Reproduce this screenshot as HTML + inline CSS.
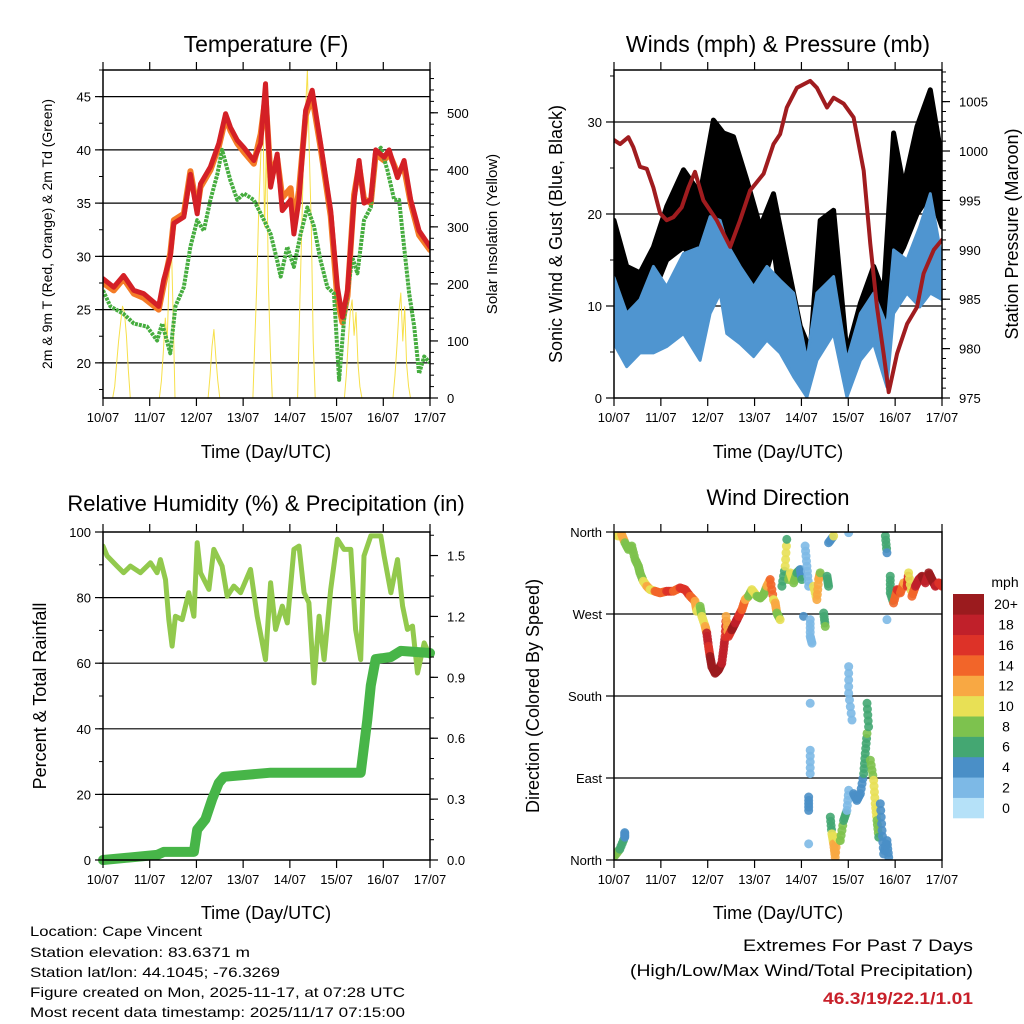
<!DOCTYPE html>
<html><head><meta charset="utf-8">
<style>
html,body{margin:0;padding:0;background:#fff;}
svg{display:block;font-family:"Liberation Sans",Arial,sans-serif;}
</style></head>
<body>
<svg id="fig" width="1024" height="1024" viewBox="0 0 1024 1024" xmlns="http://www.w3.org/2000/svg">
<rect width="1024" height="1024" fill="#fff"/>
<g id="layer"></g>
<text x="266" y="52" font-size="23" text-anchor="middle">Temperature (F)</text>
<text x="778" y="52" font-size="23" text-anchor="middle">Winds (mph) &amp; Pressure (mb)</text>
<text x="266" y="511" font-size="22" text-anchor="middle">Relative Humidity (%) &amp; Precipitation (in)</text>
<text x="778" y="505" font-size="22" text-anchor="middle">Wind Direction</text>
<text x="266" y="458" font-size="18" text-anchor="middle">Time (Day/UTC)</text>
<text x="778" y="458" font-size="18" text-anchor="middle">Time (Day/UTC)</text>
<text x="266" y="919" font-size="18" text-anchor="middle">Time (Day/UTC)</text>
<text x="778" y="919" font-size="18" text-anchor="middle">Time (Day/UTC)</text>
<text transform="translate(52,234) rotate(-90)" font-size="14" text-anchor="middle">2m &amp; 9m T (Red, Orange) &amp; 2m Td (Green)</text>
<text transform="translate(497,234) rotate(-90)" font-size="15" text-anchor="middle">Solar Insolation (Yellow)</text>
<text transform="translate(562,234) rotate(-90)" font-size="18" text-anchor="middle">Sonic Wind &amp; Gust (Blue, Black)</text>
<text transform="translate(1018,234) rotate(-90)" font-size="18" text-anchor="middle">Station Pressure (Maroon)</text>
<text transform="translate(46,696) rotate(-90)" font-size="18" text-anchor="middle">Percent &amp; Total Rainfall</text>
<text transform="translate(539,696) rotate(-90)" font-size="18" text-anchor="middle">Direction (Colored By Speed)</text>
<text x="1005" y="587" font-size="14" text-anchor="middle">mph</text>
<g font-size="14">
<text x="30" y="936" textLength="172" lengthAdjust="spacingAndGlyphs">Location: Cape Vincent</text>
<text x="30" y="957" textLength="220" lengthAdjust="spacingAndGlyphs">Station elevation: 83.6371 m</text>
<text x="30" y="977" textLength="250" lengthAdjust="spacingAndGlyphs">Station lat/lon: 44.1045; -76.3269</text>
<text x="30" y="997" textLength="375" lengthAdjust="spacingAndGlyphs">Figure created on Mon, 2025-11-17, at 07:28 UTC</text>
<text x="30" y="1017" textLength="375" lengthAdjust="spacingAndGlyphs">Most recent data timestamp: 2025/11/17 07:15:00</text>
</g>
<text x="973" y="951" font-size="17" text-anchor="end" textLength="230" lengthAdjust="spacingAndGlyphs">Extremes For Past 7 Days</text>
<text x="973" y="976" font-size="17" text-anchor="end" textLength="343" lengthAdjust="spacingAndGlyphs">(High/Low/Max Wind/Total Precipitation)</text>
<text x="973" y="1004" font-size="17" font-weight="bold" fill="#c8202a" text-anchor="end" textLength="150" lengthAdjust="spacingAndGlyphs">46.3/19/22.1/1.01</text>
</svg>
<script>
// ---------- data ----------
const dayLabels = ["10/07","11/07","12/07","13/07","14/07","15/07","16/07","17/07"];
const tempTicks = [20,25,30,35,40,45];
const solarTicks = [0,100,200,300,400,500];
const windTicks = [0,10,20,30];
const presTicks = [975,980,985,990,995,1000,1005];
const rhTicks = [0,20,40,60,80,100];
const precipTicks = ["0.0","0.3","0.6","0.9","1.2","1.5"];
const dirTicks = ["North","East","South","West","North"];
const speedLabels = ["0","2","4","6","8","10","12","14","16","18","20+"];
const speedColors = ["#b5e1f8","#7db9e6","#4a8fc7","#44a772","#7dc24e","#e8e055","#f8a843","#f26529","#dd3228","#c0202a","#9b1b1e"];

const tempHours = [0,5.5,10.6,15.8,20.9,28.6,31.2,34.6,36.4,41.5,44.9,48.4,50.1,55.2,59.5,63,65.5,69,72.4,77.5,81,83.5,86.1,89.5,92.1,96.4,98.1,100.7,104.1,107.5,111.8,117,120.4,123,125.6,129,131.6,134.1,137.6,140.1,144.4,147,151.3,154.7,158.1,162.4,168];
const temp2m = [27.9,27.1,28.2,26.8,26.5,25.3,27.8,30,33.1,33.7,37.7,34,36.8,38.4,40.6,43.4,42.1,40.9,40.2,39,40.6,46.2,36.5,39.6,34.3,35.3,32.1,35.3,43.7,45.6,40.6,34.3,27.1,24.3,26.8,35.3,39,35,35.3,40,39.3,40,37.4,39,35.3,32.4,30.9];
const temp9m = [27.5,26.8,27.9,26.5,26.1,25.0,27.3,30.3,33.4,34.0,38.0,34.4,36.5,38.1,40.3,43.0,41.8,40.6,39.8,38.7,41.5,45.0,37.5,39.2,35.5,36.4,33.0,36.2,43.2,45.0,40.2,33.8,26.0,23.8,26.3,35.8,38.5,35.4,35.0,39.6,39.0,39.7,37.8,38.3,35.0,32.0,30.6];
const dewHours = [0,3.8,10.6,15.8,22.6,27.8,30.4,34.6,37.2,41.5,44.9,48.4,51.8,55.2,58.7,61.2,65.5,69,72.4,77.5,82.7,86.1,89.5,91.3,94.7,98.1,101.5,105,108.4,111.8,115.3,118.7,121.3,123.8,128.1,130.7,134.1,137.6,140.1,142.7,146.1,149.6,152.1,154.7,157.3,159.9,162.4,165,168];
const dewPoint = [26.8,25.3,24.6,23.7,23.4,22.1,23.7,20.9,25.3,27.1,30.9,33.4,32.4,35.3,37.7,40,37.1,35.3,35.9,35.3,33.4,32.1,29.6,28.1,30.9,29,32.1,34.6,32.8,29.6,27.1,26.5,18.4,24,29.9,28.4,33.4,34.6,39.6,40.2,38.1,35.3,35.3,30.9,26.5,23.4,19,20.6,20];
const solarHours = [0,5,6,7,8,9,10,11,12,13,14,29,30,31,32,33,34,35,36,37,54,55,56,57,58,59,60,77,78,79,80,81,82,83,84,85,86,87,100,101,102,103,104,105,106,107,108,109,124,125,126,127,128,129,130,131,132,133,149,150,151,152,153,154,155,156,157,158,168];
const solarVals = [0,0,20,60,100,130,161,150,110,50,0,0,30,80,140,100,220,290,150,0,0,40,90,120,70,30,0,0,100,200,330,420,530,300,450,200,80,0,0,150,280,420,500,575,430,300,100,0,0,40,100,150,172,110,150,60,20,0,0,40,90,150,184,100,160,60,20,0,0];

const presHours = [0,3.1,7.4,9.9,13.3,16.8,20.2,23.6,27,30.4,34.7,38.1,41.5,45.8,52.6,59.5,64.6,69.7,76.6,81.7,85.1,88.5,93.7,100.5,103.9,109.1,112.5,117.6,122.7,127.9,131.3,134.7,138.1,140.7,145,150.1,155.2,158.6,163.8,168];
const pressure = [1001.1,1000.7,1001.4,1000.4,998.4,998.2,996.3,993.7,993,993.3,994.3,996.3,997.9,995,993,990.3,993,996,997.7,1000.7,1001.7,1004.4,1006.4,1007.1,1006.4,1004.4,1005.4,1004.8,1003.4,998,990.6,984.2,979.5,975.6,979.5,982.5,984.2,987.6,990,991];
const windHours = [0,6.5,13.3,20.2,27,35.6,44.1,49.2,54.4,57.8,64.6,71.5,78.3,85.1,92,98.8,103.9,112.5,119.3,126.2,133,139.8,143.2,150,156.6,162,168];
const windLow = [5.9,3.4,4.9,4.9,5.6,7,4.1,9.2,11.4,7,5.9,4.5,6.3,4.9,2.3,0.1,4.1,7,0.1,4.1,5.9,1.2,9.2,11.4,9.9,11.4,10.7];
const windHigh = [13.1,9.2,10.7,14.3,12.1,15.7,16.4,19.7,19.3,16.8,14.3,12.1,14.3,12.8,11.4,4.1,11.4,13.2,4.1,9.2,11.4,7.8,16.1,15,18.6,22.2,15];
const gustHours = [0,6.5,13.3,20.2,27,35.6,44.1,50.9,56.1,61.2,68,74.9,81.7,88.5,95.4,100.5,105.6,112.5,119.3,126.2,133,138.1,143.2,148.4,155.2,162,168];
const gustLow = [9.2,9.2,7.8,11.4,15,16.4,14.3,19.3,17.9,16.4,10.7,11.4,16.4,5.9,3.4,2.7,10.7,12.1,2,6.3,9.2,4.9,14.3,16.4,20,22.2,18.6];
const gustHigh = [19.3,14.3,13.6,16.4,20.8,24.8,22.2,30.2,28.8,28.4,23.7,18.6,22.2,15,7.8,5.2,19.3,20.4,4.9,10.3,14.3,11.4,28.8,23,29.5,33.5,25.9];

const rhHours = [0,2.1,7.2,10.6,14.1,19.2,24.4,27.8,29.5,32.1,33.8,35.5,37.2,40.7,44.1,46.7,48.4,50.1,54.4,56.9,61.2,63.8,67.2,70.7,75.8,79.2,83.5,86.1,88.7,92.1,94.7,98.1,100.7,103.3,105.8,108.4,111,113.6,117,120.4,123.8,127.3,129.8,132.4,134.1,137.6,142.7,144.4,147.9,151.3,153.9,156.4,159,161.6,165,168];
const rhVals = [95.7,92.7,89.6,87.6,89.6,87.6,90.6,87.6,91.6,85.5,73.3,65.2,74.3,73.3,81.5,74.3,96.7,87.6,82.5,94.7,89.6,80.4,83.5,81.5,88.6,74.3,61.1,84.5,70.3,77.4,72.3,94.7,95.7,81.5,78.4,54,74.3,61.1,82.5,97.8,94.7,94.7,70.3,61.1,92.7,98.8,98.8,92.7,81.5,91.6,77.4,70.3,71.3,57,66.2,62.1];
const precipHours = [0,27.8,31.2,46.7,48.4,52.6,56.1,59.5,62.1,86.1,132.4,135.8,137.6,140.1,147.9,153,168];
const precipVals = [0,0.025,0.04,0.04,0.15,0.2,0.3,0.38,0.41,0.43,0.43,0.69,0.86,0.99,1.0,1.03,1.02];

const dirHours = [0.5,2.2,3.9,5.6,7.4,9.1,10.8,12.5,13.3,15,16.8,18.5,21,23.6,27,30.4,33.8,36.4,39,41.5,42.4,44.1,45,46.7,47.5,48.4,49.2,50.1,51.8,53.5,55.2,56.1,56.9,57.4,58.6,60.3,62.1,63.8,65.5,67.2,68.9,70.6,73.2,74.9,76.6,78.3,80,81.7,82.6,83.4,85.1,86,87.7,88.5,89.4,90.3,92,93.7,95.4,96.2,97.1,97.9,98.8,99.7,100.5,100.5,101.4,100.5,100.5,100.5,99.7,99.7,99.7,102.2,103.9,104.8,105.6,107.4,108.2,109.1,109.9,109.9,112.5,110.8,111.6,112.5,113.3,114.2,115.9,117.6,119.3,120.2,120.2,120.2,120.2,121.9,122.7,124.4,126.2,127.9,128.7,129.6,129.6,130.4,131.3,133,133.8,134.7,135.6,136.4,137.3,138.1,139.8,140.7,139,139.8,139.8,141.5,141.5,143.2,145,146.7,148.4,150.1,150.9,152.6,154.4,156.1,157.8,159.5,161.2,162.9,164.6,166.3,168,0.5,3,5.5,5.5];
const dirDeg = [357.4,355.6,357.4,348.2,340.9,344.6,329.9,322.5,315.2,306,300.5,296.8,295,293.2,295,295,298.7,296.8,289.5,284,273,278.5,267.4,256.4,249.1,234.4,223.4,212.3,205,208.7,216,230.7,245.4,267.4,245.4,252.7,260.1,267.4,274.8,285.8,289.5,296.8,289.5,287.6,291.3,300.5,307.8,285.8,282.1,271.1,263.8,300.5,322.5,351.9,307.8,315.2,304.2,315.2,318.9,307.8,267.4,344.6,322.5,300.5,263.8,245.4,238,172,120.5,94.8,69.1,54.4,17.7,300.5,285.8,307.8,315.2,271.1,256.4,311.5,300.5,348.2,355.6,47.1,28.7,17.7,3,25,21.3,43.4,54.4,76.5,359.3,212.3,183,153.6,72.8,65.4,72.8,94.8,116.8,138.9,172,146.2,109.5,87.5,61.8,43.4,25,61.8,32.4,6.7,21.3,3,355.6,337.2,263.8,311.5,293.2,282.1,296.8,293.2,304.2,300.5,315.2,289.5,300.5,307.8,311.5,304.2,315.2,307.8,300.5,304.2,300.5,5,12,25,30];
const dirSpeed = [10,9,12,8,7,8,8,7,8,10,12,10,13,14,15,13,16,16,14,12,9,8,10,12,18,16,19,19,20,19,18,17,16,12,16,19,17,16,14,11,8,10,8,8,7,12,13,10,12,8,10,5,9,5,8,10,7,6,4,5,3,2,2,1,1,1,1,1,1,2,3,3,2,10,12,11,8,6,7,6,6,4,10,6,10,12,12,10,8,6,2,2,1,1,1,1,3,4,4,5,6,7,6,6,7,10,9,8,6,4,3,4,3,4,5,3,1,5,6,14,15,14,12,16,10,14,17,18,19,18,20,20,18,16,15,8,6,4,3];

// ---------- panels & scales ----------
const NS = "http://www.w3.org/2000/svg";
const layer = document.getElementById('layer');
function mk(tag, attrs, parent){ const e=document.createElementNS(NS,tag); for(const k in attrs) e.setAttribute(k,attrs[k]); (parent||layer).appendChild(e); return e; }
const P1={L:103,R:430,T:70,B:398}, P2={L:614,R:942,T:70,B:398}, P3={L:103,R:430,T:532,B:860}, P4={L:614,R:942,T:532,B:860};
const xs = P => h => P.L + h/168*(P.R-P.L);
const lin = (d0,d1,P) => v => P.B - (v-d0)/(d1-d0)*(P.B-P.T);
const x1=xs(P1), x2=xs(P2), x3=xs(P3), x4=xs(P4);
const yTemp=lin(16.7,47.5,P1), ySolar=lin(0,575,P1);
const yWind=lin(0,35.65,P2), yPres=lin(975,1008.2,P2);
const yRh=lin(0,100,P3), yPrec=lin(0,1.616,P3);
const yDir=lin(0,360,P4);

function pathOf(hs, vs, xf, yf){ return hs.map((h,i)=>(i?'L':'M')+xf(h).toFixed(1)+','+yf(vs[i]).toFixed(1)).join(''); }
function bandOf(hs, lo, hi, xf, yf){
  let d = hs.map((h,i)=>(i?'L':'M')+xf(h).toFixed(1)+','+yf(hi[i]).toFixed(1)).join('');
  for(let i=hs.length-1;i>=0;i--) d += 'L'+xf(hs[i]).toFixed(1)+','+yf(lo[i]).toFixed(1);
  return d+'Z';
}

function clip(id,P){ const c=mk('clipPath',{id:id}); mk('rect',{x:P.L,y:P.T,width:P.R-P.L,height:P.B-P.T},c); }
clip('c1',P1);clip('c2',P2);clip('c3',P3);clip('c4',P4);

function frame(P, name, xf){
  dayLabels.forEach((lab,i)=>{
    const x = xf(i*24);
    const tb = mk('line',{x1:x,x2:x,y1:P.B,y2:P.B+8,stroke:'#000','stroke-width':1.2});
    
    
    const tt = mk('line',{x1:x,x2:x,y1:P.T,y2:P.T-8,stroke:'#000','stroke-width':1.2});
    
    
    const t = mk('text',{x:x,y:P.B+24,'font-size':13,'text-anchor':'middle'});
    t.textContent = lab;
    
    
  });
}
function grid(P, name, ys){
  ys.forEach(y=>{
    const g = mk('line',{x1:P.L,x2:P.R,y1:y,y2:y,stroke:'#000','stroke-width':1.2});
    
    
  });
}
function leftAxis(P,name,vals,labels,yf,minorStep,minorMin,minorMax){
  for(let v=minorMin; v<=minorMax+1e-9; v+=minorStep){
    const y=yf(v); if(y<P.T-0.5||y>P.B+0.5) continue;
    const m = mk('line',{x1:P.L-4,x2:P.L,y1:y,y2:y,stroke:'#000','stroke-width':1});
    
    
  }
  vals.forEach((v,i)=>{
    const y=yf(v);
    const t=mk('line',{x1:P.L-8,x2:P.L,y1:y,y2:y,stroke:'#000','stroke-width':1.2});
    
    
    const l=mk('text',{x:P.L-12,y:y+5,'font-size':13,'text-anchor':'end'});
    l.textContent = labels[i];
    
    
  });
}
function rightAxis(P,name,vals,labels,yf,minorStep,minorMin,minorMax){
  for(let v=minorMin; v<=minorMax+1e-9; v+=minorStep){
    const y=yf(v); if(y<P.T-0.5||y>P.B+0.5) continue;
    const m = mk('line',{x1:P.R,x2:P.R+4,y1:y,y2:y,stroke:'#000','stroke-width':1});
    
    
  }
  vals.forEach((v,i)=>{
    const y=yf(v);
    const t=mk('line',{x1:P.R,x2:P.R+8,y1:y,y2:y,stroke:'#000','stroke-width':1.2});
    
    
    const l=mk('text',{x:P.R+17,y:y+5,'font-size':13,'text-anchor':'start'});
    l.textContent = labels[i];
    
    
  });
}
function border(P,name){
  const r=mk('rect',{x:P.L,y:P.T,width:P.R-P.L,height:P.B-P.T,fill:'none',stroke:'#000','stroke-width':1.5});
  
  
}

// ---------- panel 1: temperature ----------
grid(P1,'temp',tempTicks.map(yTemp));
const g1 = mk('g',{'clip-path':'url(#c1)'});


const solar = mk('path',{d:pathOf(solarHours,solarVals,x1,ySolar),fill:'none',stroke:'#f7e04a','stroke-width':1,'stroke-linejoin':'round'},g1);


const t9 = mk('path',{d:pathOf(tempHours,temp9m,x1,yTemp),fill:'none',stroke:'#f47b26','stroke-width':6,'stroke-linejoin':'round','stroke-linecap':'round'},g1);


const dew = mk('path',{d:pathOf(dewHours,dewPoint,x1,yTemp),fill:'none',stroke:'#46ad3f','stroke-width':4,'stroke-dasharray':'3 1','stroke-linejoin':'round'},g1);


const t2 = mk('path',{d:pathOf(tempHours,temp2m,x1,yTemp),fill:'none',stroke:'#d42026','stroke-width':5,'stroke-linejoin':'round','stroke-linecap':'round'},g1);


border(P1,'temp');
frame(P1,'temp',x1);
leftAxis(P1,'temp',tempTicks,tempTicks.map(String),yTemp,2.5,17.5,47.5);
rightAxis(P1,'solar',solarTicks,solarTicks.map(String),ySolar,20,0,560);

// ---------- panel 2: winds ----------
grid(P2,'wind',[10,20,30].map(yWind));
const g2 = mk('g',{'clip-path':'url(#c2)'});


const gust = mk('path',{d:bandOf(gustHours,gustLow,gustHigh,x2,yWind),fill:'#000',stroke:'#000','stroke-width':5,'stroke-linejoin':'round'},g2);


const wind = mk('path',{d:bandOf(windHours,windLow,windHigh,x2,yWind),fill:'#4f95d0',stroke:'#4f95d0','stroke-width':3,'stroke-linejoin':'round'},g2);


const pres = mk('path',{d:pathOf(presHours,pressure,x2,yPres),fill:'none',stroke:'#a01c1f','stroke-width':4,'stroke-linejoin':'round','stroke-linecap':'round'},g2);


border(P2,'wind');
frame(P2,'wind',x2);
leftAxis(P2,'wind',windTicks,windTicks.map(String),yWind,5,0,35);
rightAxis(P2,'pressure',presTicks,presTicks.map(String),yPres,1,975,1008);

// ---------- panel 3: RH & precip ----------
grid(P3,'rh',[20,40,60,80].map(yRh));
const g3 = mk('g',{'clip-path':'url(#c3)'});


const rh = mk('path',{d:pathOf(rhHours,rhVals,x3,yRh),fill:'none',stroke:'#92c94d','stroke-width':5,'stroke-linejoin':'round','stroke-linecap':'round'},g3);


const pr = mk('path',{d:pathOf(precipHours,precipVals,x3,yPrec),fill:'none',stroke:'#47b548','stroke-width':10,'stroke-linejoin':'round','stroke-linecap':'round'});


border(P3,'rh');
frame(P3,'rh',x3);
leftAxis(P3,'rh',rhTicks,rhTicks.map(String),yRh,10,0,100);
rightAxis(P3,'precip',precipTicks.map(Number),precipTicks,yPrec,0.1,0,1.6);

// ---------- panel 4: wind direction ----------
grid(P4,'dir',[90,180,270].map(yDir));
const g4 = mk('g',{'clip-path':'url(#c4)'});


function sc(s){ return speedColors[Math.max(0,Math.min(10,Math.round(s/2)))]; }
for(let i=0;i<dirHours.length;i++){
  const j=i+1;
  if(j<dirHours.length && Math.abs(dirHours[j]-dirHours[i])<4 && Math.abs(dirDeg[j]-dirDeg[i])<30 && dirHours[j]>=dirHours[i]){
    for(let k=1;k<4;k++){
      const f=k/4;
      const h=dirHours[i]+(dirHours[j]-dirHours[i])*f, d=dirDeg[i]+(dirDeg[j]-dirDeg[i])*f;
      const c=mk('circle',{cx:x4(h),cy:yDir(d),r:4.5,fill:sc(dirSpeed[i]),'fill-opacity':0.9},g4);
      
      
    }
  }
  const c=mk('circle',{cx:x4(dirHours[i]),cy:yDir(dirDeg[i]),r:4.5,fill:sc(dirSpeed[i]),'fill-opacity':0.9},g4);
  
  
}
border(P4,'dir');
frame(P4,'dir',x4);
leftAxis(P4,'dir',[0,90,180,270,360],dirTicks,yDir,90,0,360);

// colorbar
const cbTop=594, cbH=224/11;
speedColors.forEach((col,i)=>{
  const y = cbTop + (10-i)*cbH;
  const r=mk('rect',{x:953,y:y,width:31,height:cbH+0.3,fill:col});
  
  
  const t=mk('text',{x:1006,y:y+cbH/2+5,'font-size':14,'text-anchor':'middle'});
  t.textContent = speedLabels[i];
  
  
});
</script>
</body></html>
